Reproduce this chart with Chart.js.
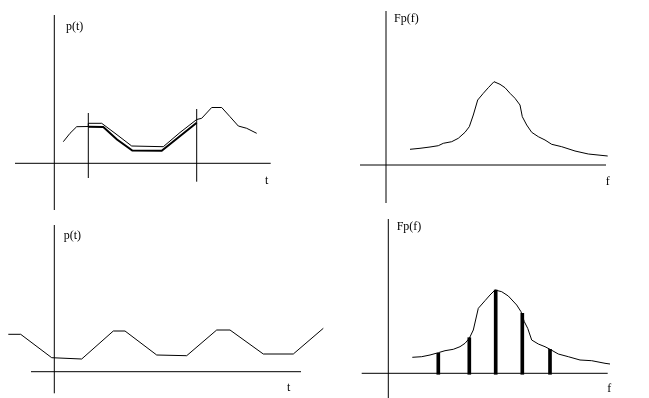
<!DOCTYPE html>
<html>
<head>
<meta charset="utf-8">
<script src="https://cdn.jsdelivr.net/npm/chart.js@4.4.0/dist/chart.umd.min.js"></script>
<style>
  html, body { margin: 0; padding: 0; background: #fff; }
  #page { position: relative; width: 649px; height: 398px; overflow: hidden; }
  canvas { position: absolute; }
</style>
</head>
<body>
<div id="page">
  <canvas id="pulse"></canvas>
  <canvas id="spectrum"></canvas>
  <canvas id="periodic"></canvas>
  <canvas id="lines"></canvas>
</div>
<script>
// panel 1 - p(t) with the windowed piece
var pulseT = [0.9, 1.57, 2.24, 3.4, 3.4, 4.74, 6.17, 7.74, 10.9, 12.57, 14.24, 14.74, 15.74, 16.74, 17.57, 18.4, 19.24, 20.24];
var pulseP = [2.16, 3.0, 3.66, 3.68, 4.0, 4.0, 2.93, 1.73, 1.66, 3.08, 4.38, 4.5, 5.58, 5.58, 4.66, 3.73, 3.5, 3.0];
var windowT = [3.4, 4.9, 6.27, 7.8, 10.74, 14.24];
var windowP = [3.66, 3.62, 2.38, 1.28, 1.25, 4.05];
var windowEdgeT = [3.4, 14.24];
var windowEdgeLow = [-1.47, -1.84];
var windowEdgeHigh = [5.03, 5.43];

// panel 2 - continuous spectrum Fp(f)
var specF = [2.4, 3.4, 4.4, 5.23, 5.73, 6.57, 7.23, 7.9, 8.33, 8.73, 9.17, 9.73, 10.23, 10.8, 11.4, 11.9, 12.4, 12.9, 13.4, 13.63, 14.07, 14.57, 15.23, 15.9, 16.57, 17.57, 18.9, 20.23, 22.17];
var specA = [1.57, 1.67, 1.8, 1.93, 2.17, 2.33, 2.67, 3.27, 3.83, 5.0, 6.5, 7.17, 7.73, 8.33, 8.07, 7.73, 7.17, 6.67, 6.0, 4.83, 4.0, 3.27, 2.83, 2.5, 2.07, 1.83, 1.4, 1.1, 0.9];

// panel 3 - periodic p(t)
var periodicT = [-4.6, -3.36, -0.26, 2.74, 5.9, 7.07, 10.24, 13.24, 16.24, 17.57, 20.9, 23.9, 26.9];
var periodicP = [3.74, 3.74, 1.4, 1.27, 4.07, 4.07, 1.67, 1.6, 4.17, 4.17, 1.77, 1.77, 4.34];

// panel 4 - envelope and line spectrum
var envF = [2.4, 3.34, 4.17, 5.0, 5.67, 6.5, 7.17, 7.67, 8.1, 8.5, 9.0, 9.67, 10.17, 10.67, 11.34, 12.0, 12.84, 13.27, 13.6, 13.94, 14.34, 15.0, 15.67, 16.17, 17.0, 18.0, 19.17, 20.34, 21.67, 22.17];
var envA = [1.6, 1.66, 1.83, 2.06, 2.26, 2.4, 2.66, 3.0, 3.5, 4.33, 6.5, 7.26, 7.83, 8.33, 8.16, 7.73, 6.83, 6.16, 5.16, 4.5, 3.33, 2.93, 2.66, 2.4, 1.93, 1.66, 1.33, 1.26, 1.0, 0.93];
var harmonicF = [5.0, 8.1, 10.74, 13.4, 16.17];
var harmonicA = [2.0, 3.56, 8.33, 6.0, 2.4];

// axis extents, [from, to]
var axisX = [[-3.93, 21.64], [-2.6, 22.0], [-2.33, 24.67], [-2.66, 21.94]];
var axisY = [[-4.67, 14.83], [-3.8, 15.4], [-2.16, 14.67], [-2.47, 15.43]];
var yNames = ['p(t)', 'Fp(f)', 'p(t)', 'Fp(f)'];
var xNames = ['t', 'f', 't', 'f'];

var UNIT = 10; // px per unit
var panels = [
    { id: 'pulse',    left: 0,   top: 0,   w: 325, h: 215, ox: 54.3,  oy: 163.3, yName: [1.17, 13.63], xName: [21.24, -1.77] },
    { id: 'spectrum', left: 330, top: 0,   w: 319, h: 210, ox: 386,   oy: 165,   yName: [0.8, 14.6],   xName: [22.17, -1.67] },
    { id: 'periodic', left: 0,   top: 205, w: 330, h: 193, ox: 54.3,  oy: 371.7, yName: [0.94, 13.6],  xName: [23.44, -1.66] },
    { id: 'lines',    left: 330, top: 210, w: 319, h: 188, ox: 388.3, oy: 373.3, yName: [0.84, 14.66], xName: [22.1, -1.6] }
];

function pts(xs, ys) {
    return xs.map(function (x, i) { return { x: x, y: ys[i] }; });
}

function axisData(i) {
    return [
        { x: axisX[i][0], y: 0 }, { x: axisX[i][1], y: 0 },
        { x: 0, y: null },
        { x: 0, y: axisY[i][0] }, { x: 0, y: axisY[i][1] }
    ];
}

function lineSet(data, width) {
    return {
        type: 'line',
        data: data,
        borderColor: '#000',
        borderWidth: width || 1,
        pointRadius: 0,
        tension: 0,
        fill: false,
        spanGaps: false
    };
}

var axisText = {
    id: 'axisText',
    afterDatasetsDraw: function (chart, args, opts) {
        var ctx = chart.ctx;
        ctx.save();
        ctx.font = '12px "Liberation Serif", "Times New Roman", serif';
        ctx.fillStyle = '#000';
        ctx.textBaseline = 'middle';
        opts.items.forEach(function (it) {
            ctx.textAlign = it.align;
            ctx.fillText(it.text, chart.scales.x.getPixelForValue(it.x), chart.scales.y.getPixelForValue(it.y));
        });
        ctx.restore();
    }
};

function makeChart(i, datasets) {
    var p = panels[i];
    var cv = document.getElementById(p.id);
    cv.width = p.w;
    cv.height = p.h;
    cv.style.left = p.left + 'px';
    cv.style.top = p.top + 'px';
    return new Chart(cv.getContext('2d'), {
        type: 'line',
        data: { datasets: datasets },
        plugins: [axisText],
        options: {
            responsive: false,
            animation: false,
            events: [],
            layout: { padding: 0 },
            scales: {
                x: { type: 'linear', display: false, offset: false, grid: { offset: false },
                     min: (p.left - p.ox) / UNIT, max: (p.left + p.w - p.ox) / UNIT },
                y: { type: 'linear', display: false, offset: false,
                     min: (p.oy - p.top - p.h) / UNIT, max: (p.oy - p.top) / UNIT }
            },
            plugins: {
                legend: { display: false },
                tooltip: { enabled: false },
                axisText: {
                    items: [
                        { text: yNames[i], x: p.yName[0], y: p.yName[1], align: 'left' },
                        { text: xNames[i], x: p.xName[0], y: p.xName[1], align: 'center' }
                    ]
                }
            }
        }
    });
}

var edges = [];
windowEdgeT.forEach(function (t, k) {
    if (k > 0) edges.push({ x: t, y: null });
    edges.push({ x: t, y: windowEdgeLow[k] }, { x: t, y: windowEdgeHigh[k] });
});

makeChart(0, [
    lineSet(axisData(0)),
    lineSet(edges),
    lineSet(pts(pulseT, pulseP)),
    lineSet(pts(windowT, windowP), 2)
]);

makeChart(1, [
    lineSet(axisData(1)),
    lineSet(pts(specF, specA))
]);

makeChart(2, [
    lineSet(axisData(2)),
    lineSet(pts(periodicT, periodicP))
]);

makeChart(3, [
    lineSet(axisData(3)),
    lineSet(pts(envF, envA)),
    {
        type: 'bar',
        data: harmonicF.map(function (f, k) { return { x: f, y: [-0.1, harmonicA[k]] }; }),
        backgroundColor: '#000',
        borderWidth: 0,
        barThickness: 3
    }
]);
</script>
</body>
</html>
